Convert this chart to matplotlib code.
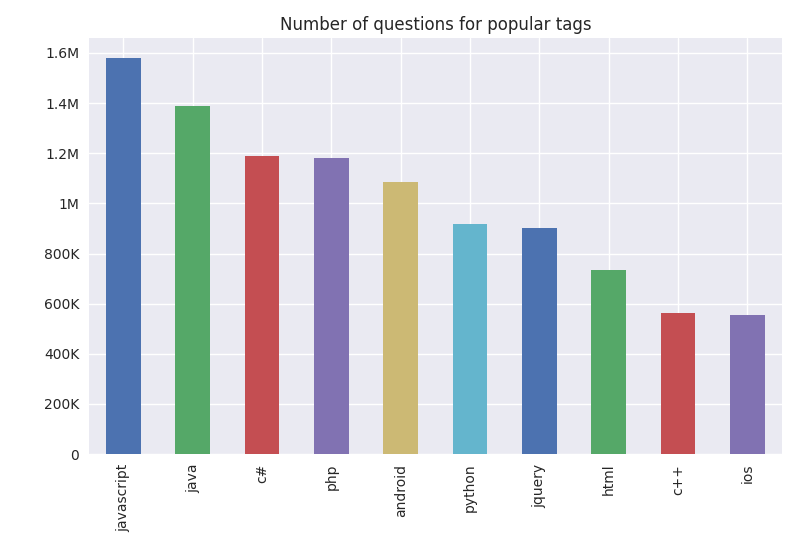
import matplotlib
matplotlib.use("Agg")
import matplotlib.pyplot as plt
from matplotlib.ticker import FuncFormatter

tags = ["javascript", "java", "c#", "php", "android",
        "python", "jquery", "html", "c++", "ios"]
counts = [1580000, 1388000, 1189000, 1181000, 1085000,
          918000, 902000, 734000, 563000, 555000]
colors = ["#4C72B0", "#55A868", "#C44E52", "#8172B2", "#CCB974",
          "#64B5CD", "#4C72B0", "#55A868", "#C44E52", "#8172B2"]

plt.style.use("seaborn-v0_8")
plt.rcParams["font.family"] = ["DejaVu Sans"]


def fmt(v, pos):
    if v == 0:
        return "0"
    if v >= 1e6:
        s = "%.1f" % (v / 1e6)
        return s.rstrip("0").rstrip(".") + "M"
    return "%dK" % round(v / 1e3)


fig = plt.figure(figsize=(8, 5.5), dpi=100)
ax = fig.add_axes([0.111, 0.1745, 0.8665, 0.7565])
ax.bar(range(len(tags)), counts, width=0.5, color=colors)
ax.set_xticks(range(len(tags)))
ax.set_xticklabels(tags, rotation=90)
ax.set_xlim(-0.5, len(tags) - 0.5)
ax.set_ylim(0, 1660000)
ax.set_yticks([i * 200000 for i in range(9)])
ax.yaxis.set_major_formatter(FuncFormatter(fmt))
ax.set_title("Number of questions for popular tags")
fig.savefig("out.png", dpi=100)
